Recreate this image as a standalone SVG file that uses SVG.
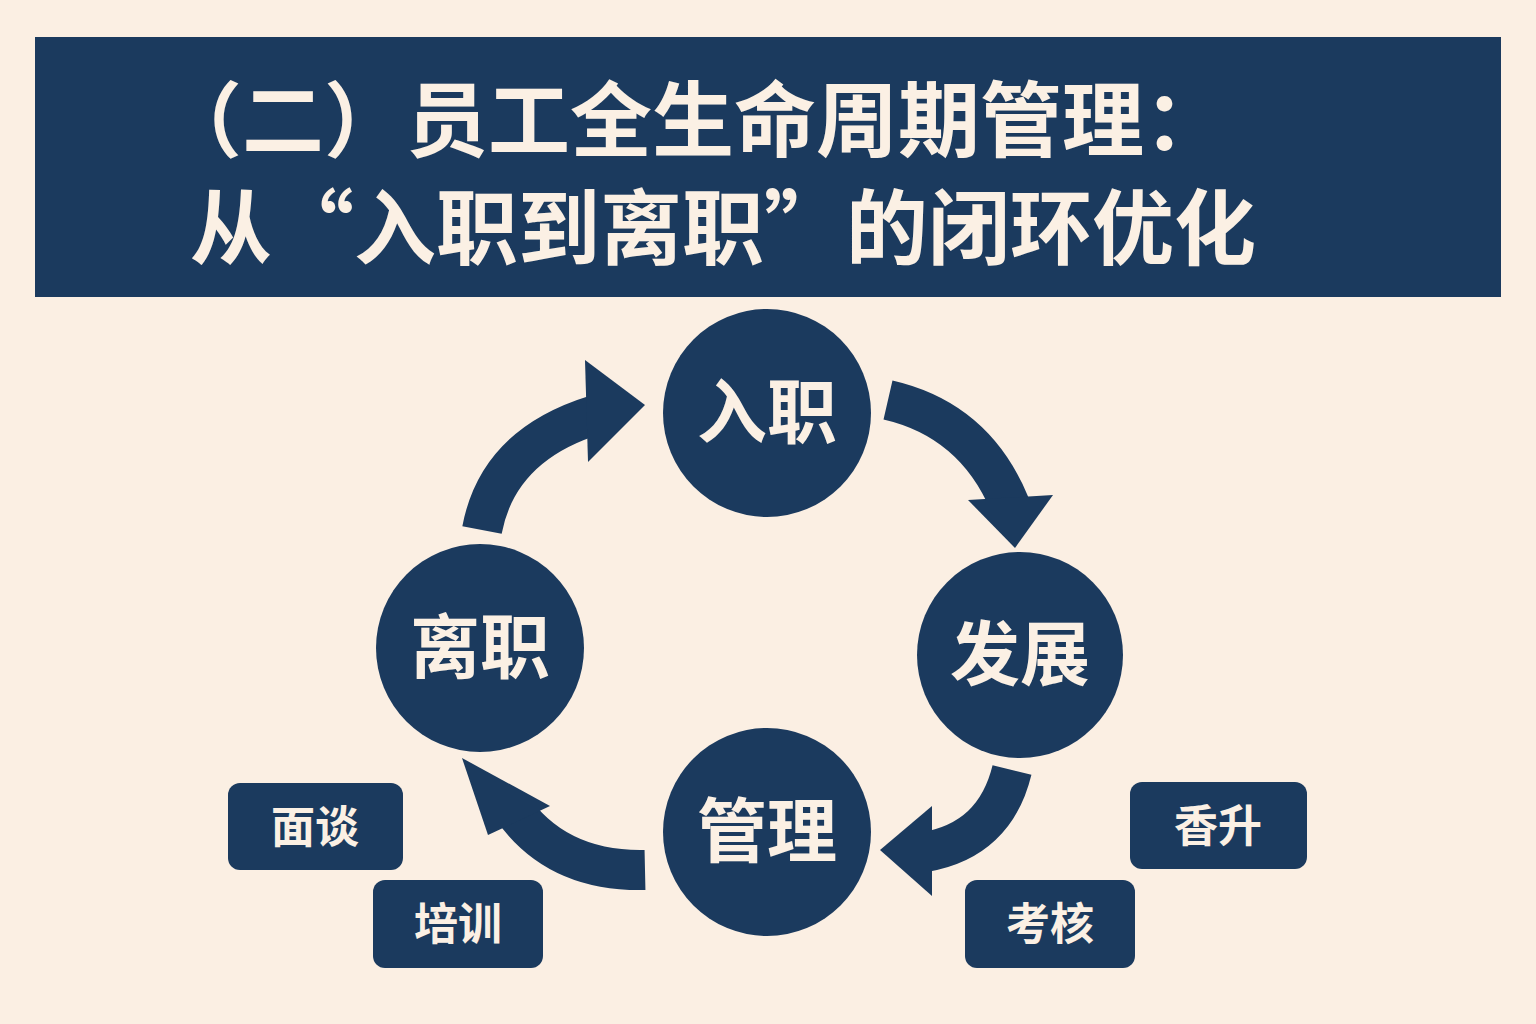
<svg xmlns="http://www.w3.org/2000/svg" width="1536" height="1024" viewBox="0 0 1536 1024">
<style>
.t{font-family:"Noto Sans CJK SC","Noto Sans",sans-serif;font-weight:700;fill:#FBF0E4}
.c{fill:#1B3A5E}
.a{fill:none;stroke:#1B3A5E;stroke-width:40}
.h{fill:#1B3A5E}
</style>
<rect width="1536" height="1024" fill="#FBEFE3"/>
<g id="title">
<rect x="35" y="37" width="1466" height="260" fill="#1B3A5E"/>
<text class="t" x="160" y="150" font-size="82">（二）员工全生命周期管理：</text>
<text class="t" x="190" y="258" font-size="82">从“入职到离职”的闭环优化</text>
</g>
<g id="connectors">
<path class="a" d="M888,400 Q975,420 1010,505"/>
<polygon class="h" points="968,500 1053,495 1015,548"/>
<path class="a" d="M1012,770 Q995,840 925,852"/>
<polygon class="h" points="932,806 880,850 932,896"/>
<path class="a" d="M645,870 Q555,872 510,805"/>
<polygon class="h" points="462,758 550,806 488,835"/>
<path class="a" d="M482,530 Q498,445 595,415"/>
<polygon class="h" points="645,405 585,360 588,462"/>
</g>
<g id="n1"><circle class="c" cx="767" cy="413" r="104"/><text class="t" x="767" y="438" font-size="70" text-anchor="middle">入职</text></g>
<g id="n2"><circle class="c" cx="1020" cy="655" r="103"/><text class="t" x="1020" y="680" font-size="70" text-anchor="middle">发展</text></g>
<g id="n3"><circle class="c" cx="767" cy="832" r="104"/><text class="t" x="767" y="857" font-size="70" text-anchor="middle">管理</text></g>
<g id="n4"><circle class="c" cx="480" cy="648" r="104"/><text class="t" x="480" y="673" font-size="70" text-anchor="middle">离职</text></g>
<g id="l1"><rect class="c" x="228" y="783" width="175" height="87" rx="12"/><text class="t" x="315" y="843" font-size="44" text-anchor="middle">面谈</text></g>
<g id="l2"><rect class="c" x="373" y="880" width="170" height="88" rx="12"/><text class="t" x="458" y="940" font-size="44" text-anchor="middle">培训</text></g>
<g id="l3"><rect class="c" x="1130" y="782" width="177" height="87" rx="12"/><text class="t" x="1218" y="842" font-size="44" text-anchor="middle">香升</text></g>
<g id="l4"><rect class="c" x="965" y="880" width="170" height="88" rx="12"/><text class="t" x="1050" y="940" font-size="44" text-anchor="middle">考核</text></g>
</svg>
